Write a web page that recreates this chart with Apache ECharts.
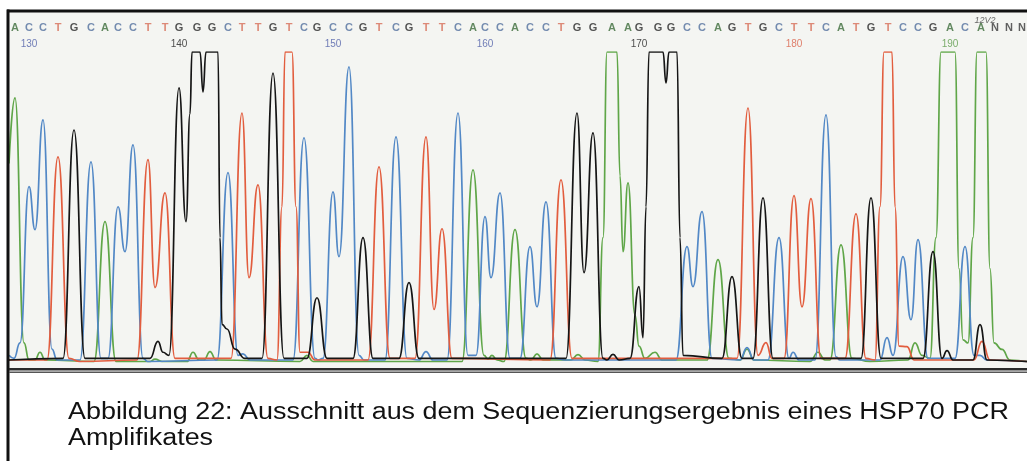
<!DOCTYPE html>
<html>
<head>
<meta charset="utf-8">
<script src="https://cdn.jsdelivr.net/npm/echarts@6/dist/echarts.min.js"></script>
<style>
  html, body { margin: 0; padding: 0; background: #ffffff; }
  #chart { width: 1027px; height: 461px; }
</style>
</head>
<body>
<div id="chart"></div>
<script>
// Called bases of the read, in order, and the scan position of each base peak
const bases = 'ACCTGCACCTTGGGCTTGTCGCCGTCGTTCACCACCTGGAAGGGCCAGTGCTTCATGTCCGACANNN'.split('');
const baseX = [15,29,43,58,74,91,105,118,133,148,165,179,197,212,228,242,258,273,289,304,
               317,333,349,363,379,396,409,426,442,458,473,485,500,515,530,546,561,577,593,612,
               628,639,658,671,687,702,718,732,748,763,779,794,811,826,841,856,871,888,903,918,
               933,950,965,981,995,1009,1022];

// Position numbers shown every ten bases (index into bases)
const tickLabels = ['130','140','150','160','170','180','190'];
const tickBaseIndex = [1, 11, 21, 31, 41, 51, 61];

// Fluorescence traces: [scan position, signal]; signal 1000 = detector ceiling
const traceA = [[9,640],[15,852],[24,60],[29,5],[35,5],[40,30],[45,5],[94,0],[105,452],[116,0],
  [150,0],[155,8],[162,0],[187,0],[193,30],[199,5],[204,5],[210,32],[216,5],[300,0],[307,20],[313,0],
  [462,0],[473,619],[484,20],[488,8],[492,20],[497,5],[504,0],[515,426],[526,10],[531,5],[537,25],
  [543,5],[571,5],[578,22],[585,5],[598,0],[603,400],[607,1000],[617,1000],[620,600],[623,355],
  [628,577],[635,150],[639,50],[645,10],[655,30],[662,5],[707,5],[718,329],[729,10],[740,5],
  [747,40],[754,5],[810,0],[818,30],[825,5],[830,5],[841,377],[852,10],[870,0],[908,5],[915,60],
  [922,20],[930,10],[936,400],[941,1000],[955,1000],[959,300],[963,70],[968,60],[973,400],
  [977,1000],[986,1000],[990,300],[994,60],[1002,39],[1010,5],[1027,0]];

const traceC = [[9,20],[14,10],[20,60],[29,565],[35,426],[43,781],[52,40],[57,5],[80,5],[91,645],
  [101,10],[108,10],[118,500],[125,355],[133,700],[143,10],[148,0],[217,5],[228,610],[238,20],
  [243,25],[250,5],[293,5],[304,723],[315,10],[318,5],[323,10],[333,548],[339,339],[349,952],
  [359,20],[364,5],[385,5],[396,726],[407,10],[419,5],[426,32],[433,5],[447,5],[458,803],[468,20],
  [476,20],[485,468],[491,271],[500,545],[510,10],[520,10],[530,371],[537,177],[546,516],[556,10],
  [565,5],[676,5],[687,371],[693,242],[702,484],[712,10],[740,5],[747,45],[754,5],[768,5],
  [779,400],[789,10],[793,30],[799,5],[815,5],[826,797],[836,15],[840,5],[880,5],[887,77],
  [893,20],[903,339],[911,135],[918,394],[928,10],[955,10],[965,371],[974,20],[980,20],[987,5],
  [1027,0]];

const traceT = [[9,5],[47,5],[58,661],[69,10],[80,0],[137,5],[148,652],[155,239],[165,545],
  [175,10],[231,10],[242,803],[249,271],[258,571],[268,10],[277,5],[282,500],[285,1000],[292,1000],
  [296,500],[300,30],[308,30],[315,5],[368,5],[379,629],[390,10],[415,10],[426,726],[434,168],
  [442,429],[452,10],[550,5],[561,587],[572,10],[737,10],[748,819],[758,20],[766,61],[772,10],
  [784,10],[794,536],[802,177],[811,526],[821,10],[845,10],[856,477],[866,10],[875,5],[880,500],
  [884,1000],[892,1000],[895,500],[899,50],[907,48],[914,5],[974,5],[982,65],[990,5],[1027,0]];

const traceG = [[9,5],[63,10],[74,748],[85,10],[150,10],[158,65],[163,30],[169,20],[179,884],
  [186,452],[190,800],[192,1000],[200,1000],[203,871],[206,1000],[218,1000],[220,400],[222,120],
  [227,105],[235,40],[245,10],[262,10],[273,932],[284,10],[307,10],[317,206],[327,10],[353,10],
  [363,400],[373,10],[399,10],[409,255],[419,10],[566,10],[577,803],[584,287],[593,739],[603,10],
  [607,5],[613,23],[619,5],[630,10],[639,242],[643,77],[646,500],[649,1000],[663,1000],[666,900],
  [669,1000],[677,1000],[680,400],[683,20],[722,10],[732,274],[742,10],[753,10],[763,529],
  [773,10],[861,10],[871,529],[881,10],[923,10],[933,355],[942,10],[947,35],[953,5],[973,5],
  [980,119],[987,5],[1027,0]];

const captionLines = [
  'Abbildung 22: Ausschnitt aus dem Sequenzierungsergebnis eines HSP70 PCR',
  'Amplifikates'
];

const traceColor = { A: '#5fa648', C: '#5288c6', G: '#151515', T: '#e25d3e' };
const letterColor = { A: '#3f6e3c', C: '#52709e', G: '#2b2b2b', T: '#d76e58', N: '#3a3a3a' };
const numberColor = { A: '#5a9a48', C: '#4d5ea8', G: '#222222', T: '#d9624a' };

const chart = echarts.init(document.getElementById('chart'), null, { renderer: 'canvas' });

// Header strip: base letters and position numbers
const headerData = bases.map((b, i) => ({
  value: [baseX[i], 6.3],
  label: { formatter: b, color: letterColor[b], fontSize: 11, fontWeight: 'bold' }
}));
tickBaseIndex.forEach((idx, k) => {
  headerData.push({
    value: [baseX[idx], 2.1],
    label: { formatter: tickLabels[k], color: numberColor[bases[idx]], fontSize: 10 }
  });
});
// handwritten note above the ambiguous call
headerData.push({
  value: [985, 8.3],
  label: { formatter: '12V2', color: '#444', fontSize: 9, fontStyle: 'italic' }
});

function trace(data, color, z) {
  return {
    type: 'line', xAxisIndex: 0, yAxisIndex: 0, data: data,
    showSymbol: false, symbol: 'none', smooth: 0.5, smoothMonotone: 'x', clip: true, z: z,
    lineStyle: { color: color, width: 1.7 }, silent: true
  };
}

chart.setOption({
  animation: false,
  backgroundColor: '#ffffff',
  grid: [
    { left: 9, right: 0, top: 52, bottom: 97 },
    { left: 9, right: 0, top: 14, height: 38 }
  ],
  xAxis: [
    { type: 'value', gridIndex: 0, min: 9, max: 1027, show: false },
    { type: 'value', gridIndex: 1, min: 9, max: 1027, show: false }
  ],
  yAxis: [
    { type: 'value', gridIndex: 0, min: -8, max: 1000, show: false },
    { type: 'value', gridIndex: 1, min: 0, max: 10, show: false }
  ],
  graphic: [
    { type: 'rect', z: -10, shape: { x: 9, y: 12, width: 1018, height: 356 }, style: { fill: '#f4f5f2' } },
    { type: 'rect', z: 100, shape: { x: 7, y: 9.5, width: 1020, height: 3 }, style: { fill: '#111' } },
    { type: 'rect', z: 100, shape: { x: 6.5, y: 9.5, width: 3, height: 452 }, style: { fill: '#111' } },
    { type: 'rect', z: 100, shape: { x: 9, y: 368, width: 1018, height: 2.5 }, style: { fill: '#2a2a2a' } },
    { type: 'rect', z: 100, shape: { x: 9, y: 371.5, width: 1018, height: 1.5 }, style: { fill: '#555' } },
    { type: 'text', z: 100, x: 68, y: 413, scaleX: 1.17,
      style: { text: captionLines[0], fill: '#111', font: '23px "Liberation Sans", Arial, sans-serif', verticalAlign: 'middle' } },
    { type: 'text', z: 100, x: 68, y: 439, scaleX: 1.17,
      style: { text: captionLines[1], fill: '#111', font: '23px "Liberation Sans", Arial, sans-serif', verticalAlign: 'middle' } }
  ],
  series: [
    trace(traceA, traceColor.A, 2),
    trace(traceC, traceColor.C, 3),
    trace(traceT, traceColor.T, 4),
    trace(traceG, traceColor.G, 5),
    {
      type: 'scatter', xAxisIndex: 1, yAxisIndex: 1, data: headerData,
      symbolSize: 0.1, itemStyle: { color: 'rgba(0,0,0,0)' }, silent: true,
      label: { show: true, position: 'inside', fontFamily: 'Liberation Sans, Arial, sans-serif' }
    }
  ]
});
</script>
</body>
</html>
